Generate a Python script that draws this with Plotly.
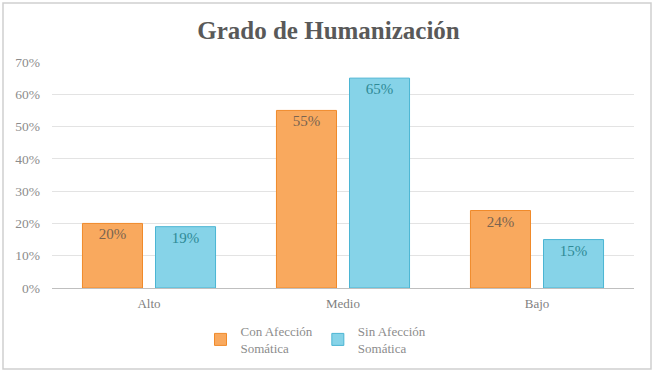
import plotly.graph_objects as go

categories = ["Alto", "Medio", "Bajo"]
con_afeccion = [20, 55, 24]
sin_afeccion = [19, 65, 15]
series_names = ["Con Afección<br>Somática", "Sin Afección<br>Somática"]
tick_vals = [0, 10, 20, 30, 40, 50, 60, 70]
tick_text = [f"{v}%" for v in tick_vals]

font_fam = "Liberation Serif"

fig = go.Figure()
fig.add_trace(go.Bar(
    x=categories, y=con_afeccion, name=series_names[0],
    text=[f"{v}%" for v in con_afeccion], textposition="inside",
    insidetextanchor="end",
    textfont=dict(color="#7a6450", size=15, family=font_fam),
    marker=dict(color="#f9a95e", line=dict(color="#f08a2a", width=1)),
))
fig.add_trace(go.Bar(
    x=categories, y=sin_afeccion, name=series_names[1],
    text=[f"{v}%" for v in sin_afeccion], textposition="inside",
    insidetextanchor="end",
    textfont=dict(color="#2f8a96", size=15, family=font_fam),
    marker=dict(color="#86d3e8", line=dict(color="#4bb5d3", width=1)),
))

fig.update_layout(
    width=657, height=373,
    margin=dict(l=52, r=23, t=62, b=85, autoexpand=False),
    paper_bgcolor="white", plot_bgcolor="white",
    barmode="group", bargap=0.247, bargroupgap=0.178,
    title=dict(text="<b>Grado de Humanización</b>", x=0.5, xanchor="center",
               y=1 - 30 / 373, yanchor="middle",
               font=dict(family=font_fam, size=25, color="#595959")),
    font=dict(family=font_fam, color="#7f7f7f", size=12),
    showlegend=True,
    legend=dict(orientation="h", x=(316 - 52) / 582, xanchor="center",
                yref="container", y=1 - 316 / 373, yanchor="top",
                font=dict(family=font_fam, size=13, color="#8c8c8c"),
                itemwidth=30, bgcolor="rgba(0,0,0,0)"),
    xaxis=dict(showgrid=False, showline=True, linecolor="#bfbfbf", linewidth=1,
               ticks="", ticklabelstandoff=3,
               tickfont=dict(size=13, color="#7f7f7f", family=font_fam)),
    yaxis=dict(range=[0, 70], tickvals=tick_vals, ticktext=tick_text,
               showgrid=True, gridcolor="#e3e3e3", gridwidth=1,
               zeroline=False, showline=False, ticks="", ticklabelstandoff=11,
               tickfont=dict(size=13.5, color="#8c8c8c", family=font_fam)),
    shapes=[dict(type="rect", xref="paper", yref="paper",
                 x0=(3 - 52) / 582, x1=(651 - 52) / 582,
                 y0=(288 - 369) / 226, y1=(288 - 3) / 226,
                 line=dict(color="#cfcfcf", width=1.5), fillcolor="rgba(0,0,0,0)",
                 layer="below")],
)

fig.write_html("out.html", config={"displayModeBar": False},
               post_script="document.body.style.margin='0px';")
